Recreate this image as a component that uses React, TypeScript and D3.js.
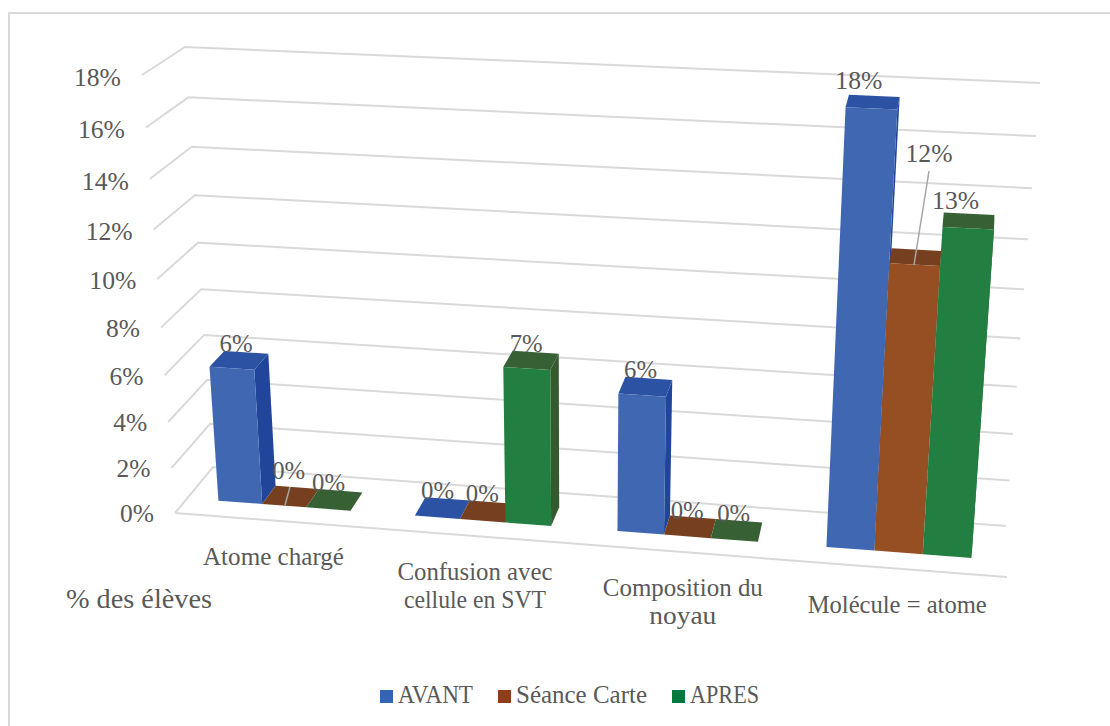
import React from "react";
import * as D3 from "d3";

const categories = [["Atome chargé"], ["Confusion avec", "cellule en SVT"], ["Composition du", "noyau"], ["Molécule = atome"]];
const seriesNames = ["AVANT", "Séance Carte", "APRES"];
const avant = [5.9, 0, 5.9, 17.6];
const seance = [0, 0, 0, 11.8];
const apres = [0, 6.7, 0, 13.3];
const valueTicks = [0, 2, 4, 6, 8, 10, 12, 14, 16, 18];
const valueLabels = [["6%", "0%", "6%", "18%"], ["0%", "0%", "0%", "12%"], ["0%", "7%", "0%", "13%"]];

const frontColors = ["#4068B2", "#964F23", "#237F41"];
const topColors = ["#2C52A3", "#763F1F", "#376034"];
const sideColors = ["#21459A", "#6A3A1C", "#345A2E"];
const legendColors = ["#3465B5", "#8E3F1A", "#007A3C"];
const textColor = "#595959";
const gridColor = "#D9D9D9";
const font = "'Liberation Serif', serif";

const corners = {
  fbl: [175, 513], fbr: [1007, 577], ftl: [142, 75], ftr: [1041, 115],
  bbl: [213, 467], bbr: [1006, 526], btl: [185, 47], btr: [1040, 83],
};
const depthFront = 0.32;
const depthBack = 0.71;

const warp = (k: number) => (s: number) => s / (s + k * (1 - s));
const warpU = warp(1.064);
const warpV = warp(1.09);
const mix = (a: number[], b: number[], f: number) => [a[0] + (b[0] - a[0]) * f, a[1] + (b[1] - a[1]) * f];

function project(s: number, t: number, d: number) {
  const u = warpU(s), v = warpV(t), c = corners;
  const front = mix(mix(c.fbl, c.fbr, u), mix(c.ftl, c.ftr, u), v);
  const back = mix(mix(c.bbl, c.bbr, u), mix(c.btl, c.btr, u), v);
  return mix(front, back, d);
}

const valueScale = D3.scaleLinear().domain([0, 18]).range([0, 1]);
const catScale = D3.scaleBand<number>().domain([0, 1, 2, 3]).range([0, 1]).paddingInner(0.324).paddingOuter(0.162);
const serScale = D3.scaleBand<number>().domain([0, 1, 2]).range([0, catScale.bandwidth()]);
const polyLine = D3.line().curve(D3.curveLinearClosed);

const seriesValues = [avant, seance, apres];
// label offsets from the top face's centre: [dx, baseline dy]
const labelOffsets = [
  [[-3, -8], [-5, -9], [-5, -9], [-14, -13]],
  [[-2, -18], [-5, -9], [-3, -8], [0, 0]],
  [[-6, -9], [-5, -8], [-3, -8], [-13, -12]],
];

function T({ x, y, w, size = 25, anchor = "middle", children }: any) {
  return (
    <text x={x} y={y} fontFamily={font} fontSize={size} fill={textColor} textAnchor={anchor}
      textLength={w} lengthAdjust="spacingAndGlyphs">{children}</text>
  );
}

export default function App() {
  const bars: React.ReactNode[] = [];
  const labels: React.ReactNode[] = [];
  categories.forEach((_, ci) => {
    seriesNames.forEach((__, si) => {
      const s0 = catScale(ci)! + serScale(si)!;
      const s1 = s0 + serScale.bandwidth();
      const val = seriesValues[si][ci];
      const t = valueScale(val);
      const P = (s: number, tt: number, d: number) => project(s, tt, d) as [number, number];
      const fbl = P(s0, 0, depthFront), fbr = P(s1, 0, depthFront), ftl = P(s0, t, depthFront), ftr = P(s1, t, depthFront);
      const btl = P(s0, t, depthBack), btr = P(s1, t, depthBack), bbr = P(s1, 0, depthBack);
      const key = `${ci}-${si}`;
      if (val > 0 && btr[0] > ftr[0]) {
        bars.push(<path key={key + "s"} d={polyLine([fbr, ftr, btr, bbr])!} fill={sideColors[si]} />);
      }
      bars.push(<path key={key + "t"} d={polyLine([ftl, ftr, btr, btl])!} fill={topColors[si]} />);
      if (val > 0) bars.push(<path key={key + "f"} d={polyLine([fbl, fbr, ftr, ftl])!} fill={frontColors[si]} />);

      const cx = (ftl[0] + ftr[0] + btr[0] + btl[0]) / 4;
      const cy = (ftl[1] + ftr[1] + btr[1] + btl[1]) / 4;
      const txt = valueLabels[si][ci];
      const stretch = txt.length === 3 ? 47 : 33;
      if (si === 1 && ci === 3) {
        labels.push(<T key={key} x={929} y={162} w={stretch}>{txt}</T>);
        labels.push(<line key={key + "l"} x1={929} y1={171} x2={914} y2={265} stroke="#A6A6A6" strokeWidth={1.5} />);
      } else {
        const o = labelOffsets[si][ci];
        labels.push(<T key={key} x={cx + o[0]} y={cy + o[1]} w={stretch}>{txt}</T>);
      }
      if (si === 1 && ci === 0) {
        labels.push(<line key={key + "l"} x1={290} y1={487} x2={285} y2={505} stroke="#A6A6A6" strokeWidth={1.5} />);
      }
    });
  });

  const catWidths = [[141], [155, 142], [160, 67], [179]];
  return (
    <svg width={1110} height={726} style={{ position: "absolute", left: 0, top: 0, background: "#fff" }}>
      <path d="M9 726V13H1110" fill="none" stroke="#D9D9D9" strokeWidth={2} />
      {valueTicks.map((v) => {
        const t = valueScale(v);
        const a = project(0, t, 0), b = project(0, t, 1), c = project(1, t, 1);
        return (
          <g key={v}>
            <polyline points={[a, b, c].map((p) => p.join(",")).join(" ")} fill="none" stroke={gridColor} strokeWidth={2} />
            <T x={a[0] - 21} y={a[1] + 9 + 2 * t} w={v >= 10 ? 47 : 34} anchor="end">{v}%</T>
          </g>
        );
      })}
      <line x1={project(0, 0, 0)[0]} y1={project(0, 0, 0)[1]} x2={project(1, 0, 0)[0]} y2={project(1, 0, 0)[1]} stroke={gridColor} strokeWidth={2} />
      {bars}
      {labels}
      {categories.map((lines, i) => {
        const p = project(catScale(i)! + catScale.bandwidth() / 2, 0, 0);
        return lines.map((l, j) => (
          <T key={l} x={p[0]} y={p[1] + 44 + j * 28} w={catWidths[i][j]}>{l}</T>
        ));
      })}
      <T x={66} y={608} w={146} anchor="start" size={27}>% des élèves</T>
      {seriesNames.map((n, i) => {
        const sx = [380, 498, 672][i];
        const w = [75, 131, 69][i];
        return (
          <g key={n}>
            <rect x={sx} y={690} width={13} height={13} fill={legendColors[i]} />
            <T x={sx + 18} y={703} w={w} anchor="start">{n}</T>
          </g>
        );
      })}
    </svg>
  );
}
